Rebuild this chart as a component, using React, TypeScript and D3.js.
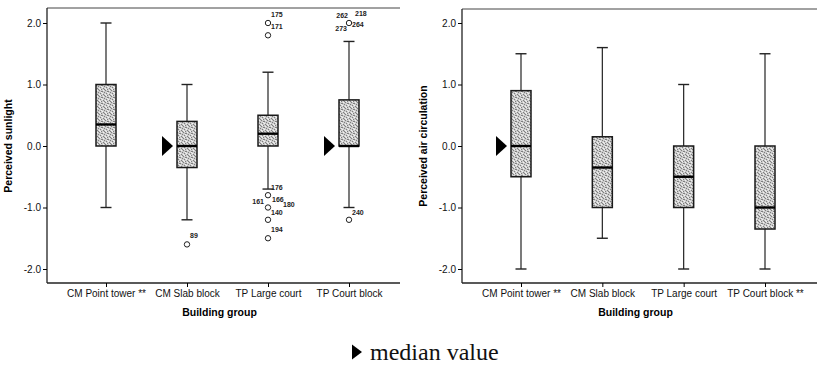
import React, { useEffect, useRef } from 'react';
import * as d3 from 'd3';

const sunCategories = ['CM Point tower **', 'CM Slab block', 'TP Large court', 'TP Court block'];
const airCategories = ['CM Point tower **', 'CM Slab block', 'TP Large court', 'TP Court block **'];
const yTicks = [-2, -1, 0, 1, 2];

// Perceived sunlight
const sunMin = [-1.0, -1.2, -0.7, -1.0];
const sunQ1 = [0.0, -0.35, 0.0, 0.0];
const sunMedian = [0.35, 0.0, 0.2, 0.0];
const sunQ3 = [1.0, 0.4, 0.5, 0.75];
const sunMax = [2.0, 1.0, 1.2, 1.7];
const sunOutliers = [
  { group: 1, value: -1.6, ids: ['89'] },
  { group: 2, value: 2.0, ids: ['175'] },
  { group: 2, value: 1.8, ids: ['171'] },
  { group: 2, value: -0.8, ids: ['176'] },
  { group: 2, value: -1.0, ids: ['161', '166', '180'] },
  { group: 2, value: -1.2, ids: ['140'] },
  { group: 2, value: -1.5, ids: ['194'] },
  { group: 3, value: 2.0, ids: ['262', '218', '264', '273'] },
  { group: 3, value: -1.2, ids: ['240'] },
];
const sunMedianMarks = [1, 3];

// Perceived air circulation
const airMin = [-2.0, -1.5, -2.0, -2.0];
const airQ1 = [-0.5, -1.0, -1.0, -1.35];
const airMedian = [0.0, -0.35, -0.5, -1.0];
const airQ3 = [0.9, 0.15, 0.0, 0.0];
const airMax = [1.5, 1.6, 1.0, 1.5];
const airMedianMarks = [0];

// label offsets around the outlier circles
const labelPlacement: Record<string, [number, number, string]> = {
  '89': [3, -8, 'start'],
  '175': [3, -8, 'start'],
  '171': [3, -8, 'start'],
  '176': [3, -7, 'start'],
  '161': [-4, -5, 'end'],
  '166': [4, -7, 'start'],
  '180': [15, -2, 'start'],
  '140': [3, -7, 'start'],
  '194': [3, -8, 'start'],
  '240': [3, -7, 'start'],
  '262': [-1, -7, 'end'],
  '218': [6, -9, 'start'],
  '264': [3, 2, 'start'],
  '273': [-2, 6, 'end'],
};

const FONT = 'Liberation Sans, Arial, sans-serif';

type Panel = {
  cats: string[];
  min: number[]; q1: number[]; med: number[]; q3: number[]; max: number[];
  outliers: { group: number; value: number; ids: string[] }[];
  marks: number[];
  yLabel: string;
  left: number; right: number; top: number; bottom: number;
  xFirst: number; xLast: number;
};

const panels: Panel[] = [
  {
    cats: sunCategories, min: sunMin, q1: sunQ1, med: sunMedian, q3: sunQ3, max: sunMax,
    outliers: sunOutliers, marks: sunMedianMarks, yLabel: 'Perceived sunlight',
    left: 47, right: 400, top: 8, bottom: 283, xFirst: 106, xLast: 349,
  },
  {
    cats: airCategories, min: airMin, q1: airQ1, med: airMedian, q3: airQ3, max: airMax,
    outliers: [], marks: airMedianMarks, yLabel: 'Perceived air circulation',
    left: 462, right: 817, top: 9, bottom: 283, xFirst: 521, xLast: 765,
  },
];

const App = () => {
  const ref = useRef<SVGSVGElement | null>(null);

  useEffect(() => {
    const svg = d3.select(ref.current);
    svg.selectAll('*').remove();

    // stipple texture for boxes
    const pat = svg.append('defs').append('pattern')
      .attr('id', 'stipple').attr('width', 6).attr('height', 6)
      .attr('patternUnits', 'userSpaceOnUse');
    pat.append('rect').attr('width', 6).attr('height', 6).attr('fill', '#cdcdcd');
    const dark = [[0, 1], [3, 0], [4, 3], [1, 4], [5, 5], [2, 2], [5, 1], [2, 5]];
    const light = [[1, 0], [5, 2], [3, 4], [0, 3], [4, 5]];
    dark.forEach(([x, y]) => pat.append('rect').attr('x', x).attr('y', y).attr('width', 1).attr('height', 1).attr('fill', '#7f7f7f'));
    light.forEach(([x, y]) => pat.append('rect').attr('x', x).attr('y', y).attr('width', 1).attr('height', 1).attr('fill', '#f2f2f2'));

    panels.forEach((p) => {
      const g = svg.append('g');
      const y = d3.scaleLinear().domain([-2, 2]).range([269, 23]);
      const x = d3.scalePoint<string>().domain(p.cats).range([p.xFirst, p.xLast]);
      const boxW = 20;
      const capW = 11;

      // frame
      g.append('line').attr('x1', p.left).attr('x2', p.right).attr('y1', p.top).attr('y2', p.top)
        .attr('stroke', '#444').attr('stroke-width', 1);
      g.append('line').attr('x1', p.left).attr('x2', p.left).attr('y1', p.top).attr('y2', p.bottom)
        .attr('stroke', '#222').attr('stroke-width', 1.3);
      g.append('line').attr('x1', p.left).attr('x2', p.right).attr('y1', p.bottom).attr('y2', p.bottom)
        .attr('stroke', '#222').attr('stroke-width', 1.3);

      // y axis
      const yAxis = g.append('g').attr('transform', `translate(${p.left},0)`)
        .call(d3.axisLeft(y).tickValues(yTicks).tickSize(4).tickFormat((d) => (d as number).toFixed(1)));
      yAxis.select('.domain').remove();
      yAxis.selectAll('text').style('font-family', FONT).style('font-size', '10px').attr('fill', '#111').attr('x', -6);

      // x axis
      const xAxis = g.append('g').attr('transform', `translate(0,${p.bottom})`)
        .call(d3.axisBottom(x).tickSize(4).tickPadding(3));
      xAxis.select('.domain').remove();
      xAxis.selectAll('text').style('font-family', FONT).style('font-size', '10px').attr('fill', '#111');

      g.append('text')
        .attr('x', (p.left + p.right) / 2 - 4).attr('y', 316)
        .attr('text-anchor', 'middle')
        .style('font-family', FONT).style('font-size', '10.5px').style('font-weight', 'bold')
        .text('Building group');

      g.append('text')
        .attr('transform', `translate(${p.left - 35},146) rotate(-90)`)
        .attr('text-anchor', 'middle')
        .style('font-family', FONT).style('font-size', '10.5px').style('font-weight', 'bold')
        .text(p.yLabel);

      // boxes
      p.cats.forEach((c, i) => {
        const cx = x(c) as number;
        const bg = g.append('g');
        bg.append('line').attr('x1', cx).attr('x2', cx).attr('y1', y(p.q3[i])).attr('y2', y(p.max[i]))
          .attr('stroke', '#222').attr('stroke-width', 1.2);
        bg.append('line').attr('x1', cx).attr('x2', cx).attr('y1', y(p.q1[i])).attr('y2', y(p.min[i]))
          .attr('stroke', '#222').attr('stroke-width', 1.2);
        [p.max[i], p.min[i]].forEach((v) => {
          bg.append('line').attr('x1', cx - capW / 2).attr('x2', cx + capW / 2).attr('y1', y(v)).attr('y2', y(v))
            .attr('stroke', '#222').attr('stroke-width', 1.4);
        });
        bg.append('rect')
          .attr('x', cx - boxW / 2).attr('y', y(p.q3[i]))
          .attr('width', boxW).attr('height', y(p.q1[i]) - y(p.q3[i]))
          .attr('fill', 'url(#stipple)').attr('stroke', '#1a1a1a').attr('stroke-width', 1.5);
        bg.append('line').attr('x1', cx - boxW / 2).attr('x2', cx + boxW / 2)
          .attr('y1', y(p.med[i])).attr('y2', y(p.med[i]))
          .attr('stroke', '#000').attr('stroke-width', 2.4);
      });

      // outliers
      p.outliers.forEach((o) => {
        const cx = x(p.cats[o.group]) as number;
        const cy = y(o.value);
        g.append('circle').attr('cx', cx).attr('cy', cy).attr('r', 2.7)
          .attr('fill', 'white').attr('stroke', '#222').attr('stroke-width', 1);
        o.ids.forEach((id) => {
          const [dx, dy, anchor] = labelPlacement[id];
          g.append('text').attr('x', cx + dx).attr('y', cy + dy)
            .attr('dominant-baseline', 'middle').attr('text-anchor', anchor)
            .style('font-family', FONT).style('font-size', '7px').style('font-weight', 'bold')
            .attr('fill', '#222').text(id);
        });
      });

      // median markers
      p.marks.forEach((i) => {
        const tipX = (x(p.cats[i]) as number) - boxW / 2 - 4;
        const ty = y(p.med[i]);
        g.append('path')
          .attr('d', `M${tipX},${ty} L${tipX - 11},${ty - 10} L${tipX - 11},${ty + 10} Z`)
          .attr('fill', '#000');
      });
    });

    // legend
    const lg = svg.append('g');
    lg.append('path').attr('d', 'M362,352 L352,344.5 L352,359.5 Z').attr('fill', '#000');
    lg.append('text').attr('x', 370).attr('y', 360)
      .style('font-family', 'Liberation Serif, Times New Roman, serif').style('font-size', '24px')
      .attr('fill', '#111').text('median value');
  }, []);

  return (
    <div style={{ position: 'absolute', left: 0, top: 0 }}>
      <svg ref={ref} width={817} height={366} style={{ display: 'block', background: 'white' }}></svg>
    </div>
  );
};

export default App;
